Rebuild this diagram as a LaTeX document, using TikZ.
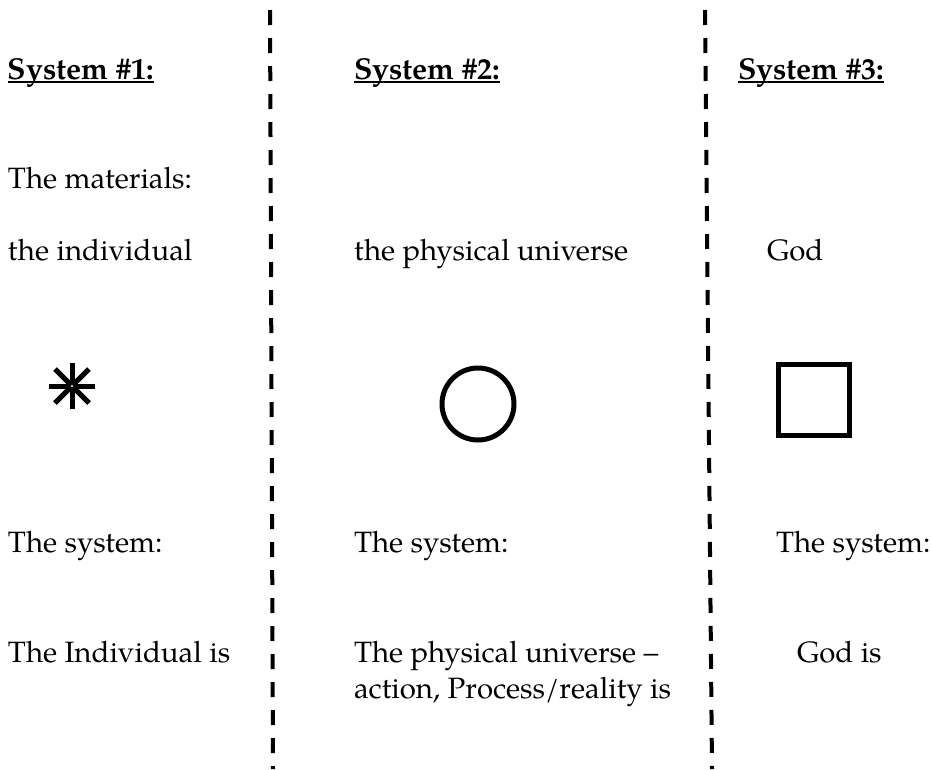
\documentclass[tikz,border=0pt]{standalone}
\usepackage{fontspec}
\setmainfont{TeX Gyre Pagella}
\begin{document}
\begin{tikzpicture}[x=1pt,y=-1pt,
  txt/.style={anchor=base west,inner sep=0pt,outer sep=0pt,font=\fontsize{29.4}{35}\selectfont},
  head/.style={txt,font=\fontsize{30.2}{35}\selectfont\bfseries},
  uline/.style={line width=2.5pt},
  divider/.style={line width=4pt,dash pattern=on 15pt off 13pt},
  shapeline/.style={line width=5pt}]
\useasboundingbox (0,0) rectangle (931,769);
% dividers
\coordinate (d1t) at (270,10); \coordinate (d1b) at (273,769);
\coordinate (d2t) at (705,10); \coordinate (d2b) at (712,769);
\draw[divider] (d1t) -- (d1b);
\draw[divider] (d2t) -- (d2b);
% headings
\node[head] (h1) at (8,79) {System \#1:};
\node[head] (h2) at (354,79) {System \#2:};
\node[head] (h3) at (738,79) {System \#3:};
\foreach \h in {h1,h2,h3}{
  \draw[uline] ([yshift=-3pt]\h.base west) -- ([yshift=-3pt]\h.base east);
}
% materials
\node[txt] (m1) at (8,188) {The materials:};
\node[txt] (a1) at (8,260) {the individual};
\node[txt] (b2) at (354,260) {the physical universe};
\node[txt] (c3) at (767,260) {God};
% symbols
\coordinate (star) at (72,386);
\draw[shapeline] ([yshift=23pt]star) -- ([yshift=-23pt]star);
\draw[shapeline] ([xshift=-23pt]star) -- ([xshift=23pt]star);
\draw[shapeline] ([shift={(-17pt,17pt)}]star) -- ([shift={(17pt,-17pt)}]star);
\draw[shapeline] ([shift={(-17pt,-17pt)}]star) -- ([shift={(17pt,17pt)}]star);
\fill[white] (star) circle (1.2pt);
\node[shapeline,draw,circle,minimum size=72pt,inner sep=0pt] (circ) at (478,404) {};
\node[shapeline,draw,rectangle,minimum size=71pt,inner sep=0pt] (sq) at (814,400) {};
% system lines
\node[txt] (s1) at (8,552) {The system:};
\node[txt] (s2) at (354,552) {The system:};
\node[txt] (s3) at (776,552) {The system:};
\node[txt] (i1) at (8,662) {The Individual is};
\node[txt] (i2) at (354,662) {The physical universe –};
\node[txt] (i2b) at (354,698) {action, Process/reality is};
\node[txt] (i3) at (797,662) {God is};
\end{tikzpicture}
\end{document}
